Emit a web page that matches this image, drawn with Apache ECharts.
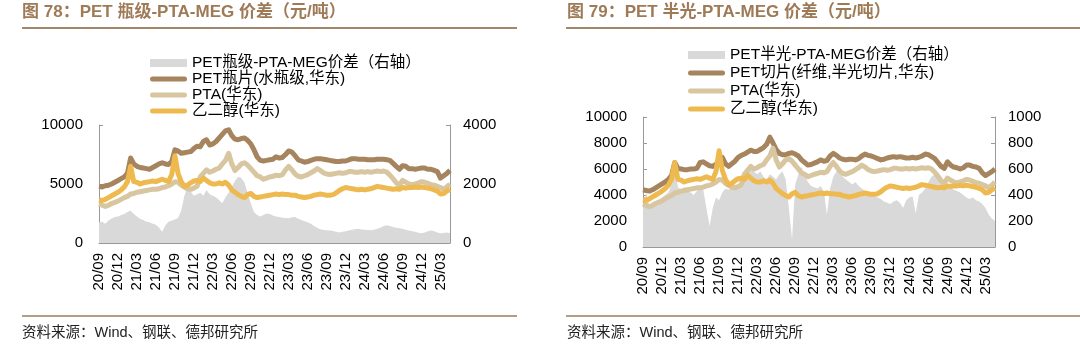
<!DOCTYPE html>
<html>
<head>
<meta charset="utf-8">
<script src="https://cdn.jsdelivr.net/npm/echarts@6.0.0/dist/echarts.min.js"></script>
<style>
html, body { margin: 0; padding: 0; background: #fff; }
#container { width: 1080px; height: 354px; }
</style>
</head>
<body>
<div id="container"></div>
<script>
var myChart = echarts.init(document.getElementById('container'));

// half-month points, 2020-09-01 .. 2025-04-16
var dates = [];
for (var i = 0; i < 112; i++) {
  var m = 8 + Math.floor(i / 2);
  var y = 2020 + Math.floor(m / 12);
  var mm = (m % 12) + 1;
  dates.push(y + '-' + (mm < 10 ? '0' + mm : mm) + '-' + (i % 2 ? '16' : '01'));
}

// PET瓶片(水瓶级,华东)
var petBottle = [
  4800, 4750, 4850, 4900, 5000, 5150, 5300, 5450, 5600, 5900, 7200, 6700,
  6500, 6400, 6350, 6300, 6250, 6400, 6550, 6700, 6800, 6700, 6650, 6900,
  7900, 7800, 7600, 7650, 7700, 7750, 8000, 8200, 8150, 8600, 8750, 8300,
  8400, 8600, 8900, 9200, 9500, 9600, 9100, 8800, 8750, 8850, 8900, 8700,
  8400, 7900, 7300, 7000, 6950, 7000, 7050, 7100, 7300, 7200, 7250, 7500,
  7800, 7700, 7400, 7050, 6950, 6850, 6900, 7000, 7100, 7150, 7150, 7100,
  7050, 7000, 6950, 6900, 6900, 6950, 6950, 7050, 7150, 7150, 7100, 7100,
  7100, 7050, 7050, 7050, 7100, 7100, 7100, 7050, 7000, 6750, 6500, 6250,
  6550, 6500, 6300, 6300, 6250, 6300, 6350, 6350, 6250, 6250, 6150, 6050,
  5500, 5700, 5900, 6150
];

// PET切片(纤维,半光切片,华东)
var petChip = [
  4400, 4350, 4300, 4400, 4550, 4700, 4850, 5000, 5200, 5500, 6500, 6050,
  6000, 5950, 5950, 6000, 6000, 6050, 6500, 6550, 6400, 6250, 6200, 6350,
  6700, 6900, 6400, 6200, 6400, 6600, 6900, 7050, 7150, 7300, 7450, 7350,
  7350, 7500, 7650, 7900, 8450, 8000, 7500, 7200, 7100, 7100, 7200, 7250,
  7150, 7000, 6700, 6500, 6300, 6350, 6450, 6550, 6700, 6600, 6650, 7000,
  7200, 7050, 6850, 6750, 6700, 6750, 6750, 6700, 6800, 7000, 7150, 7050,
  7000, 6900, 6800, 6700, 6750, 6850, 6900, 6950, 6900, 6950, 6900, 6850,
  6850, 6900, 6850, 6900, 7000, 7150, 7100, 6950, 6800, 6500, 6200, 6050,
  6550, 6300, 6150, 6100, 6000, 6100, 6300, 6300, 6200, 6150, 6050, 5700,
  5500, 5650, 5800, 6000
];

// PTA(华东)
var pta = [
  3300, 3200, 3100, 3200, 3350, 3450, 3550, 3700, 3850, 3950, 4150, 4200,
  4300, 4350, 4400, 4450, 4500, 4550, 4550, 4600, 4700, 4750, 4850, 5000,
  5200, 5150, 4900, 4750, 4600, 4550, 4650, 4800, 5600, 5900, 6200, 6000,
  6100, 6250, 6350, 6700, 7000, 7600, 6700, 6150, 6400, 6700, 6800, 6600,
  6300, 6000, 5700, 5600, 5400, 5500, 5600, 5650, 5750, 5700, 5800, 6200,
  6500, 6200, 5850, 5650, 5600, 5700, 5800, 5950, 6100, 6300, 6150, 5950,
  5850, 5800, 5850, 5900, 5950, 5900, 5950, 6050, 6050, 6000, 6000, 6050,
  6000, 6050, 6000, 6050, 6100, 6050, 6100, 6000, 5750, 5450, 5100, 4900,
  5300, 5150, 5000, 4950, 5000, 5100, 5200, 5150, 5050, 4950, 4900, 4800,
  4700, 4550, 4750, 5000
];

// 乙二醇(华东)
var meg = [
  3650, 3600, 3700, 3850, 4000, 4150, 4300, 4500, 4750, 5200, 6500, 5200,
  5150, 5000, 5100, 5150, 5200, 5250, 5200, 5300, 5400, 5300, 5200, 5800,
  7400, 5900, 5200, 4800, 4900, 5100, 5250, 5300, 5200, 5500, 5300, 5100,
  5000, 5000, 5100, 5000, 5150, 4900, 4500, 4300, 4100, 3950, 3850, 4100,
  4200, 3950, 3850, 3900, 3950, 4000, 4050, 4100, 4150, 4100, 4150, 4100,
  4100, 4050, 4050, 3950, 3900, 3850, 3900, 3950, 4050, 4100, 4150, 4100,
  4050, 4050, 4100, 4250, 4450, 4600, 4700, 4650, 4600, 4550, 4500, 4550,
  4500, 4550, 4600, 4700, 4800, 4750, 4700, 4650, 4600, 4550, 4600, 4550,
  4700, 4650, 4700, 4700, 4750, 4700, 4750, 4700, 4650, 4600, 4500, 4400,
  4150, 4200, 4400, 4550
];

// PET瓶级-PTA-MEG价差（右轴）
var spreadBottle = [
  700, 720, 650, 760, 830, 880, 900, 950, 980, 1050, 1100, 980,
  900, 820, 780, 720, 700, 650, 620, 520, 380, 600, 720, 760,
  800, 850, 1100, 1600, 1900, 1750, 1600, 1650, 1700, 1600, 1800, 1650,
  1600, 1550, 1450, 1350, 1550, 1700, 1900, 2100, 2250, 2200, 2050, 1700,
  1350, 1050, 950, 900, 950, 1000, 980, 930, 900, 880, 860, 850,
  840, 870, 880, 820, 780, 740, 700, 650, 580, 520, 470, 440,
  430, 420, 410, 380, 360, 380, 400, 420, 450, 470, 480, 460,
  450, 440, 430, 450, 480, 520, 580, 600, 580, 540, 520, 500,
  480, 450, 420, 400, 380, 350, 330, 360, 400, 420, 400, 360,
  330, 340, 360, 330
];

// PET半光-PTA-MEG价差（右轴）
var spreadChip = [
  300, 420, 320, 300, 340, 360, 380, 400, 420, 480, 650, 460,
  440, 460, 450, 420, 400, 430, 460, 440, 300, 160, 300, 380,
  360, 420, 450, 440, 460, 480, 470, 500, 520, 560, 600, 580,
  560, 580, 540, 520, 560, 540, 520, 560, 580, 520, 300, 60,
  480, 560, 620, 540, 500, 470, 460, 450, 470, 430, 250, 450,
  540, 580, 560, 540, 520, 500, 480, 500, 470, 450, 430, 420,
  400, 390, 380, 370, 350, 340, 330, 350, 360, 340, 300, 360,
  380, 390, 260, 400, 420, 450, 500, 540, 560, 530, 500, 450,
  470, 460, 440, 430, 420, 400, 380, 370, 380, 360, 350, 330,
  300, 250, 220, 200
];

var FONT = '"Liberation Sans", Arial, "Noto Sans CJK SC", sans-serif';
var C_PET = '#A5845E', C_PTA = '#D8C6A0', C_MEG = '#EEBA4F', C_GRAY = '#D9D9D9';
var AXIS = '#999999';
// rounded bar inside the 37x8 legend box (first two moves fix the box)
var LINE_ICON = 'path://M0,0 M37,8 M2.5,1.5 L34.5,1.5 A2.5,2.5 0 0 1 34.5,6.5 L2.5,6.5 A2.5,2.5 0 0 1 2.5,1.5 Z';

function xAxisFor(g) {
  return {
    gridIndex: g, type: 'category', data: dates, boundaryGap: false,
    axisLine: { show: true, lineStyle: { color: AXIS } },
    axisTick: { show: true, inside: true, length: 4, interval: 5, lineStyle: { color: AXIS } },
    axisLabel: {
      interval: 5, rotate: 90, margin: 10, fontSize: 15, color: '#000', fontFamily: FONT,
      formatter: function (v) { return v.slice(2, 4) + '/' + v.slice(5, 7); }
    },
    splitLine: { show: false }
  };
}
function yAxisFor(g, pos, max, step, margin) {
  return {
    gridIndex: g, type: 'value', position: pos, min: 0, max: max, interval: step,
    axisLine: { show: true, lineStyle: { color: AXIS } },
    axisTick: { show: true, inside: true, length: 4, lineStyle: { color: AXIS } },
    axisLabel: {
      fontSize: 15, color: '#000', fontFamily: FONT, margin: margin,
      formatter: function (v) { return String(v); }
    },
    splitLine: { show: false }
  };
}
function lineSeries(name, data, color, g) {
  return {
    name: name, type: 'line', xAxisIndex: g, yAxisIndex: g * 2, data: data,
    symbol: 'none', lineStyle: { width: 5, color: color, join: 'round' },
    itemStyle: { color: color }, z: 3
  };
}
function areaSeries(name, data, g) {
  return {
    name: name, type: 'line', xAxisIndex: g, yAxisIndex: g * 2 + 1, data: data,
    symbol: 'none', lineStyle: { width: 0 }, itemStyle: { color: C_GRAY },
    areaStyle: { color: C_GRAY, opacity: 1 }, z: 1
  };
}
function legendFor(left, top, gap, names) {
  return {
    orient: 'vertical', left: left, top: top, itemWidth: 37, itemHeight: 8, itemGap: gap,
    padding: 0,
    textStyle: { fontSize: 15.5, lineHeight: 16, color: '#000', fontFamily: FONT },
    data: [
      { name: names[0], icon: 'rect' },
      { name: names[1], icon: LINE_ICON },
      { name: names[2], icon: LINE_ICON },
      { name: names[3], icon: LINE_ICON }
    ]
  };
}

var names1 = ['PET瓶级-PTA-MEG价差（右轴）', 'PET瓶片(水瓶级,华东)', 'PTA(华东)', '乙二醇(华东)'];
var names2 = ['PET半光-PTA-MEG价差（右轴）', 'PET切片(纤维,半光切片,华东)', 'PTA(华东)', '乙二醇(华东)'];

var titleStyle = { fontSize: 17, fontWeight: 'bold', color: '#9E7A57', fontFamily: FONT };
var noteStyle = { fontSize: 14.5, fontWeight: 'normal', color: '#222', fontFamily: FONT };

var option = {
  backgroundColor: '#fff',
  animation: false,
  title: [
    { text: '图 78：PET 瓶级-PTA-MEG 价差（元/吨）', left: 22, top: 4, padding: 0, textStyle: titleStyle },
    { text: '图 79：PET 半光-PTA-MEG 价差（元/吨）', left: 567, top: 4, padding: 0, textStyle: titleStyle },
    { text: '资料来源：Wind、钢联、德邦研究所', left: 22, top: 326, padding: 0, textStyle: noteStyle },
    { text: '资料来源：Wind、钢联、德邦研究所', left: 567, top: 326, padding: 0, textStyle: noteStyle }
  ],
  graphic: [
    { type: 'line', shape: { x1: 22, y1: 28, x2: 517, y2: 28 }, style: { stroke: '#A3866A', lineWidth: 2 } },
    { type: 'line', shape: { x1: 566, y1: 28, x2: 1080, y2: 28 }, style: { stroke: '#A3866A', lineWidth: 2 } },
    { type: 'line', shape: { x1: 22, y1: 316, x2: 517, y2: 316 }, style: { stroke: '#B59C84', lineWidth: 2 } },
    { type: 'line', shape: { x1: 566, y1: 316, x2: 1080, y2: 316 }, style: { stroke: '#B59C84', lineWidth: 2 } }
  ],
  legend: [
    legendFor(150, 55, 0, names1),
    legendFor(688, 47, 2, names2)
  ],
  grid: [
    { left: 99, top: 125, width: 351, height: 118, containLabel: false },
    { left: 643, top: 117, width: 352, height: 130, containLabel: false }
  ],
  xAxis: [xAxisFor(0), xAxisFor(1)],
  yAxis: [
    yAxisFor(0, 'left', 10000, 5000, 16),
    yAxisFor(0, 'right', 4000, 2000, 13),
    yAxisFor(1, 'left', 10000, 2000, 16),
    yAxisFor(1, 'right', 1000, 200, 13)
  ],
  series: [
    areaSeries(names1[0], spreadBottle, 0),
    lineSeries(names1[1], petBottle, C_PET, 0),
    lineSeries(names1[2], pta, C_PTA, 0),
    lineSeries(names1[3], meg, C_MEG, 0),
    areaSeries(names2[0], spreadChip, 1),
    lineSeries(names2[1], petChip, C_PET, 1),
    lineSeries(names2[2], pta, C_PTA, 1),
    lineSeries(names2[3], meg, C_MEG, 1)
  ]
};

myChart.setOption(option);
</script>
</body>
</html>
